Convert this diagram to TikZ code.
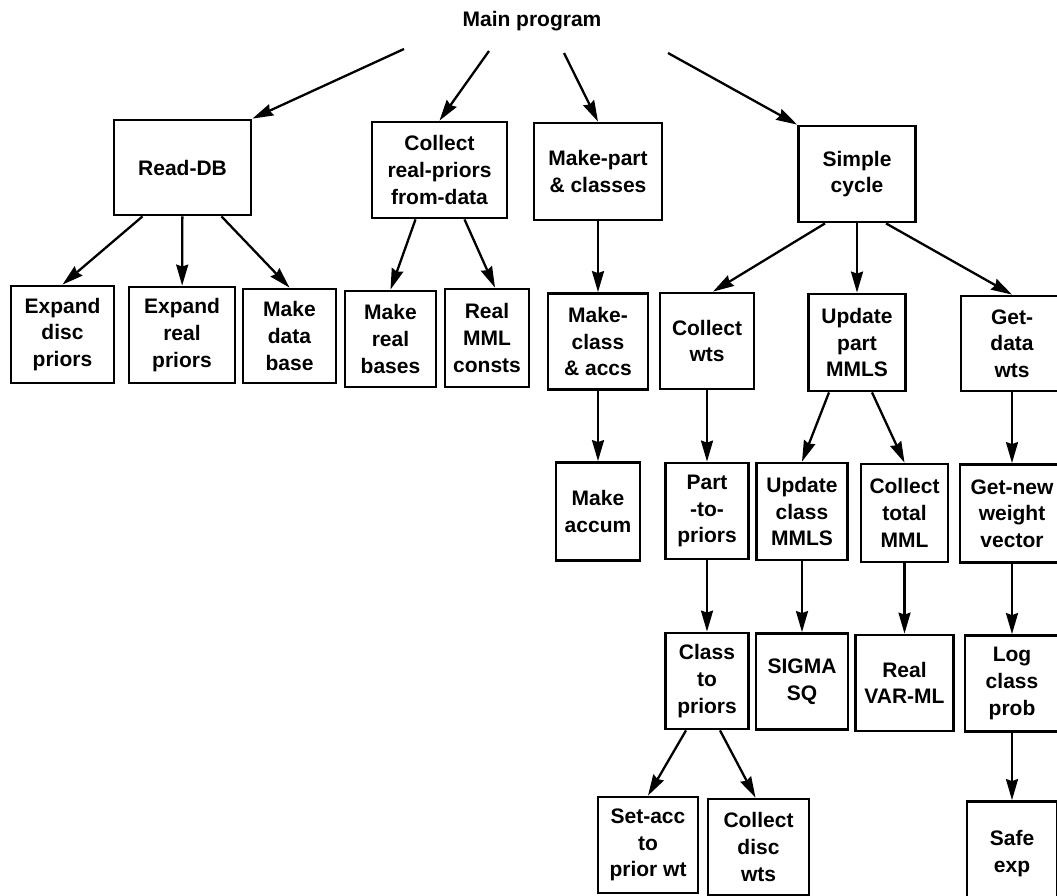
\documentclass[tikz,border=0pt]{standalone}
\usepackage{fontspec}
\setmainfont{Liberation Sans}
\usetikzlibrary{arrows.meta,positioning}
\newcommand{\procfont}{\fontsize{21}{26.7}\selectfont\bfseries}
\tikzset{>={Stealth[length=21pt,width=12pt,inset=2pt]}}
\tikzset{proc/.style={shape=rectangle, draw, line width=2.8pt, align=center,
    inner sep=0pt, minimum height=96pt, font=\procfont}}
\tikzset{every node/.style={font=\procfont}}

\begin{document}
\begin{tikzpicture}[x=1pt, y=-1pt, node distance=170pt, line width=2.3pt]
    \useasboundingbox (0,0) rectangle (1057,895);
    \clip (0,0) rectangle (1057,895);

    \node(main) at (532,21) {Main program};
    \coordinate (m1) at (404,49);
    \coordinate (m2) at (489,51);
    \coordinate (m3) at (564,53);
    \coordinate (m4) at (668,53);

    % first level
    \node(readdb)[proc, minimum width=137pt, minimum height=95pt] at (182.5,167.5) {Read-DB};
    \node(collect)[proc, minimum width=135pt] at (439.5,170) {Collect\\real-priors\\from-data};
    \node(makepart)[proc, minimum width=128pt, minimum height=97pt] at (598,171.5) {Make-part\\\& classes};
    \node(simple)[proc, minimum width=117pt] at (857,174) {Simple\\cycle};

    % second level
    \node(expdisc)[proc, minimum width=103pt, minimum height=97pt] at (62.5,334.5) {Expand\\disc\\priors};
    \node(expreal)[proc, minimum width=106pt] at (182,335) {Expand\\real\\priors};
    \node(makedata)[proc, minimum width=93pt, minimum height=94pt] at (289.5,336) {Make\\data\\base};
    \node(makereal)[proc, minimum width=91pt] at (390.5,339) {Make\\real\\bases};
    \node(realmml)[proc, minimum width=84pt, minimum height=98pt] at (487,338) {Real\\MML\\consts};
    \node(makeclass)[proc, minimum width=100pt] [below of=makepart] {Make-\\class\\\& accs};
    \node(collectwts)[proc, minimum width=94pt] at (707,341) {Collect\\wts};
    \node(updatepart)[proc, minimum width=97pt, minimum height=97pt] at (857,342.5) {Update\\part\\MMLS};
    \node(getdata)[proc, minimum width=102pt, minimum height=95pt] at (1012,343.5) {Get-\\data\\wts};

    % lower levels
    \node(makeaccum)[proc, minimum width=84pt, minimum height=98pt] [below of=makeclass] {Make\\accum};
    \node(partto)[proc, minimum width=83pt] [below of=collectwts] {Part\\-to-\\priors};
    \node(classto)[proc, minimum width=83pt] [below of=partto] {Class\\to\\priors};
    \node(updateclass)[proc, minimum width=91pt, minimum height=97pt] at (802,511.5) {Update\\class\\MMLS};
    \node(sigma)[proc, minimum width=92pt] [below of=updateclass] {SIGMA\\SQ};
    \node(collecttotal)[proc, minimum width=87pt, minimum height=98pt] at (904.5,513) {Collect\\total\\MML};
    \node(realvar)[proc, minimum width=98pt] [below of=collecttotal] {Real\\VAR-ML};
    \node(getnew)[proc, minimum width=104pt, minimum height=98pt] [below of=getdata] {Get-new\\weight\\vector};
    \node(logclass)[proc, minimum width=94pt] [below of=getnew] {Log\\class\\prob};
    \node(safeexp)[proc, minimum width=90pt, minimum height=104pt] [below of=logclass] {Safe\\exp};
    \node(setacc)[proc, minimum width=100pt] at (648,845) {Set-acc\\to\\prior wt};
    \node(collectdisc)[proc, minimum width=101pt] at (758.5,847) {Collect\\disc\\wts};

    \draw [->] (m1) to (readdb.north east);
    \draw [->] (m2) to (collect.north);
    \draw [->] (m3) to (makepart.north);
    \draw [->] (m4) to (simple.north west);

    \draw [->] ([xshift=-40pt]readdb.south) to (expdisc.north);
    \draw [->] (readdb) to (expreal);
    \draw [->] ([xshift=39pt]readdb.south) to (makedata.north);
    \draw [->] ([xshift=-24pt]collect.south) to (makereal.north);
    \draw [->] ([xshift=25pt]collect.south) to ([xshift=8pt]realmml.north);

    \draw [->] (makepart) to (makeclass);
    \draw [->] (makeclass) to (makeaccum);

    \draw [->] ([xshift=-32pt]simple.south) to ([xshift=6pt]collectwts.north);
    \draw [->] (simple) to (updatepart);
    \draw [->] ([xshift=29pt]simple.south) to (getdata.north);

    \draw [->] (collectwts) to (partto);
    \draw [->] (partto) to (classto);
    \draw [->] ([xshift=-21pt]classto.south) to (setacc.north);
    \draw [->] ([xshift=13pt]classto.south) to ([xshift=-3pt]collectdisc.north);

    \draw [->] ([xshift=-28pt]updatepart.south) to (updateclass.north);
    \draw [->] ([xshift=15pt]updatepart.south) to (collecttotal.north);
    \draw [->] (updateclass) to (sigma);
    \draw [->] (collecttotal) to (realvar);

    \draw [->] (getdata) to (getnew);
    \draw [->] (getnew) to (logclass);
    \draw [->] (logclass) to (safeexp);
\end{tikzpicture}
\end{document}
